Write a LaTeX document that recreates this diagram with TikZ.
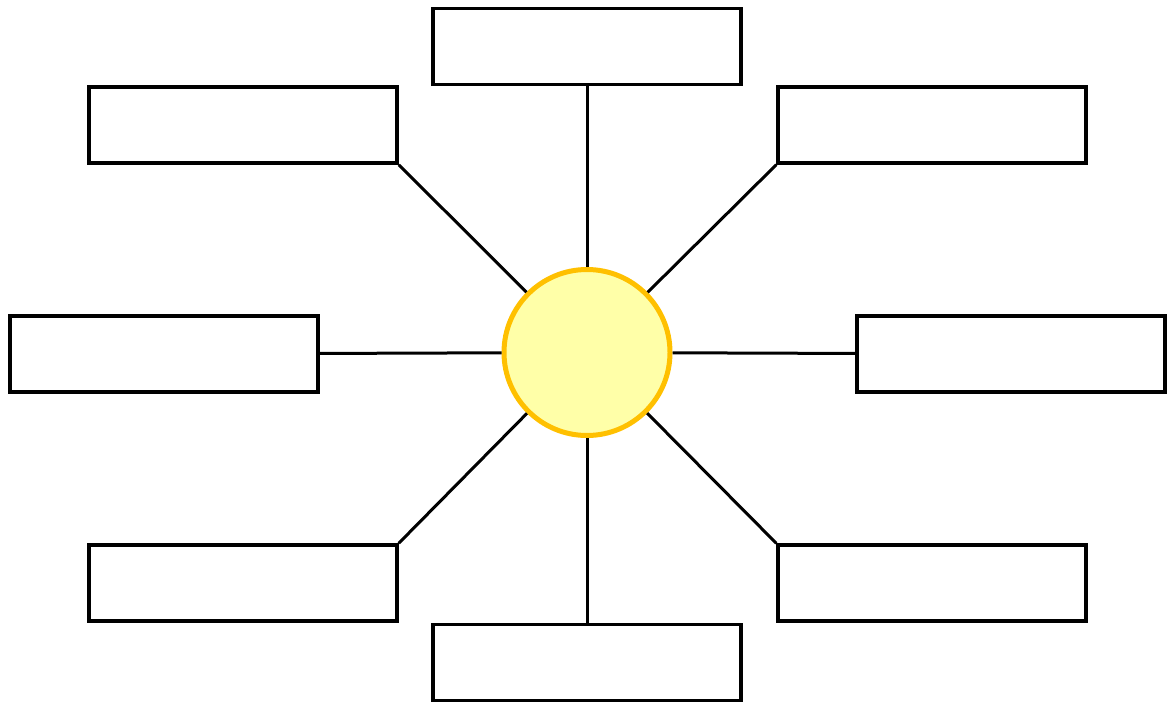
\documentclass[tikz,border=0pt]{standalone}
\usepackage{tikz}

\definecolor{hubfill}{HTML}{FFFFA8}
\definecolor{hubline}{HTML}{FFC000}

\begin{document}
\begin{tikzpicture}[x=1pt,y=-1pt,
    box/.style={draw,line width=3.5pt,minimum width=308pt,minimum height=76pt,inner sep=0pt},
    spoke/.style={line width=3pt}]
  \useasboundingbox (0,0) rectangle (1169,709);
  \node[circle,draw=hubline,fill=hubfill,line width=5pt,minimum size=166pt,inner sep=0pt] (hub) at (587,352.5) {};
  \foreach \name/\x/\y in {top/587/46.5,topleft/243/125,topright/932/125,left/164/354,
                           right/1011/354,botleft/243/583,botright/932/583,bottom/587/662.5} {
    \node[box] (\name) at (\x,\y) {};
  }
  \draw[spoke] (top) -- (hub);
  \draw[spoke] (bottom) -- (hub);
  \draw[spoke] (left) -- (hub);
  \draw[spoke] (right) -- (hub);
  \draw[spoke] (topleft.south east) -- (hub);
  \draw[spoke] (topright.south west) -- (hub);
  \draw[spoke] (botleft.north east) -- (hub);
  \draw[spoke] (botright.north west) -- (hub);
\end{tikzpicture}
\end{document}
